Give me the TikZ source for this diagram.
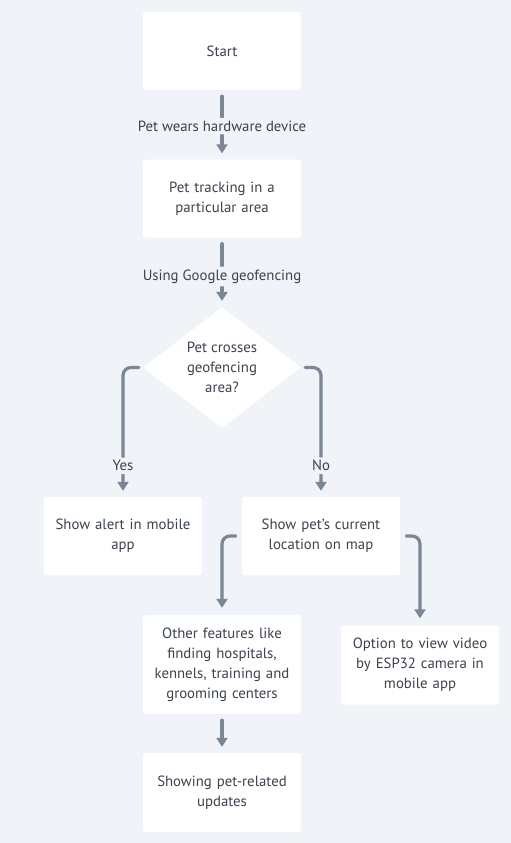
\documentclass[tikz,border=0pt]{standalone}
\usepackage{fontspec}
\setmainfont{PT Sans}
\usetikzlibrary{arrows.meta,shapes.geometric}
\definecolor{bg}{HTML}{F0F3F7}
\definecolor{conn}{HTML}{7B8794}
\definecolor{txt}{HTML}{3A434E}
\tikzset{
  box/.style={rectangle, fill=white, draw=none, rounded corners=2.5pt,
    minimum width=158pt, minimum height=78pt, inner sep=0pt,
    text width=150pt, align=center, text=txt,
    font=\fontsize{14.8pt}{20pt}\selectfont},
  decision/.style={diamond, fill=white, draw=none, inner sep=0pt,
    minimum width=158pt, minimum height=117pt, align=center, text=txt,
    font=\fontsize{14.8pt}{20pt}\selectfont},
  conn/.style={draw=conn, line width=3.2pt, line cap=round,
    -{Triangle[length=9pt,width=11pt]}, rounded corners=8pt,
    shorten <=6pt, shorten >=6pt},
  lbl/.style={fill=bg, text=txt, inner sep=3pt,
    font=\fontsize{14.8pt}{20pt}\selectfont}
}
\begin{document}
\begin{tikzpicture}[x=1pt,y=-1pt]
\fill[bg] (0,0) rectangle (511,843);
\useasboundingbox (0,0) rectangle (511,843);

\node[box] (start) at (222,51) {Start};
\node[box] (track) at (222,198.5) {Pet tracking in a\\particular area};
\node[decision] (dec) at (222,367.5) {Pet crosses\\geofencing\\area?};
\node[box] (alert) at (123,536) {Show alert in mobile\\app};
\node[box] (loc) at (321,536) {Show pet's current\\location on map};
\node[box, minimum height=99pt] (other) at (222,664.5) {Other features like\\finding hospitals,\\kennels, training and\\grooming centers};
\node[box, minimum height=79pt] (video) at (420,665) {Option to view video\\by ESP32 camera in\\mobile app};
\node[box, minimum height=79pt] (upd) at (222,792.5) {Showing pet-related\\updates};

\draw[conn] (start) -- (track) node[pos=0.52, lbl] {Pet wears hardware device};
\draw[conn] (track) -- (dec) node[pos=0.56, lbl] {Using Google geofencing};
\draw[conn, shorten <=4pt] (dec.west) -| (alert.north) node[pos=0.88, lbl] {Yes};
\draw[conn, shorten <=4pt] (dec.east) -| (loc.north) node[pos=0.88, lbl] {No};
\draw[conn, shorten >=7pt] (loc.west) -| (other.north);
\draw[conn, shorten >=7pt] (loc.east) -| (video.north);
\draw[conn] (other) -- (upd);
\end{tikzpicture}
\end{document}
